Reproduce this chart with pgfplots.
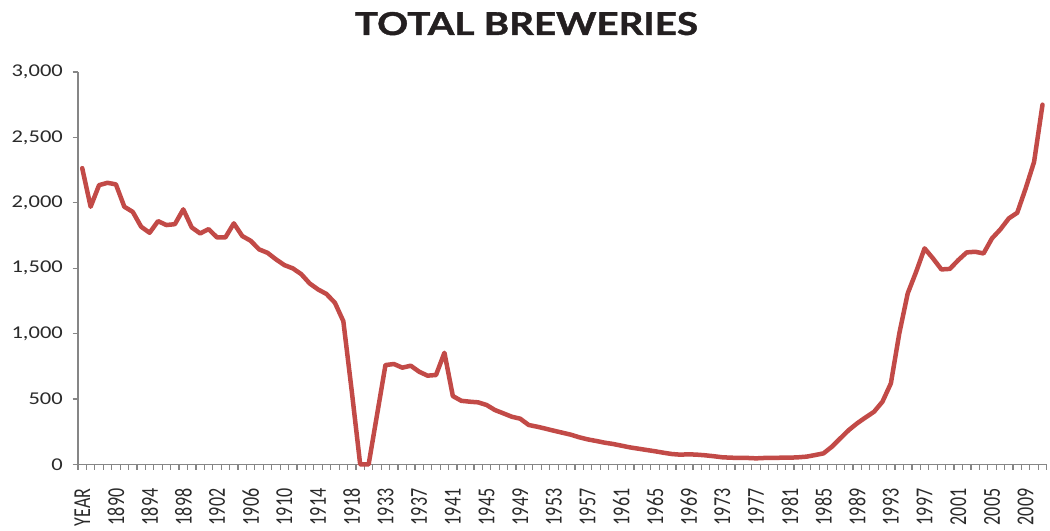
\documentclass[border=0pt]{standalone}
\usepackage{pgfplots}
\pgfplotsset{compat=1.18}
\usepackage{fontspec}
\setmainfont{Carlito}
\newfontfamily\titlefont{Lato}[BoldFeatures={FakeBold=1.2}]
\usepackage{graphicx}
\definecolor{brew}{HTML}{C24A47}
\definecolor{axisgray}{HTML}{868686}
\definecolor{lbl}{HTML}{2A2A2A}
\definecolor{titlec}{HTML}{231F20}
\newcommand\sx[1]{\scalebox{1.25}[1]{#1}}
\newcommand\sy[1]{\scalebox{1}[1.35]{#1}}
\pgfplotstableread{
i v
0 2265
1 1970
2 2135
3 2153
4 2141
5 1970
6 1931
7 1817
8 1771
9 1860
10 1830
11 1837
12 1950
13 1812
14 1766
15 1799
16 1736
17 1736
18 1843
19 1746
20 1710
21 1644
22 1618
23 1568
24 1524
25 1499
26 1455
27 1384
28 1338
29 1303
30 1236
31 1095
32 560
33 0
34 0
35 380
36 760
37 768
38 740
39 755
40 709
41 679
42 684
43 854
44 523
45 487
46 480
47 475
48 455
49 416
50 391
51 365
52 350
53 302
54 289
55 274
56 258
57 243
58 228
59 208
60 192
61 180
62 167
63 157
64 144
65 131
66 121
67 111
68 101
69 90
70 80
71 75
72 78
73 75
74 70
75 63
76 55
77 52
78 50
79 50
80 47
81 50
82 50
83 52
84 52
85 55
86 60
87 72
88 85
89 136
90 200
91 263
92 315
93 360
94 403
95 480
96 620
97 1002
98 1308
99 1473
100 1652
101 1575
102 1491
103 1495
104 1562
105 1621
106 1626
107 1613
108 1728
109 1797
110 1881
111 1924
112 2110
113 2313
114 2750
}\brewtab
\begin{document}
\begin{tikzpicture}[x=1bp,y=1bp]
\begin{axis}[
  at={(78bp,66.5bp)}, anchor=south west,
  scale only axis, width=968.7bp, height=392.5bp,
  xmin=-0.5, xmax=114.5, ymin=0, ymax=3000,
  axis lines*=left,
  axis line style={axisgray, line width=1.8bp, -},
  ytick={0,500,...,3000},
  minor ytick={0,500,...,3000},
  yticklabels={\sx{0},\sx{500},\sx{1,000},\sx{1,500},\sx{2,000},\sx{2,500},\sx{3,000}},
  xtick={0,4,...,112},
  minor xtick={-0.5,0.5,...,114.5},
  xticklabels={\sy{YEAR},\sy{1890},\sy{1894},\sy{1898},\sy{1902},\sy{1906},\sy{1910},\sy{1914},\sy{1918},\sy{1933},\sy{1937},\sy{1941},\sy{1945},\sy{1949},\sy{1953},\sy{1957},\sy{1961},\sy{1965},\sy{1969},\sy{1973},\sy{1977},\sy{1981},\sy{1985},\sy{1989},\sy{1993},\sy{1997},\sy{2001},\sy{2005},\sy{2009}},
  tick align=outside,
  major tick length=0pt,
  minor tick length=5.5bp,
  tick style={axisgray, line width=1.2bp},
  xticklabel style={font=\fontsize{18bp}{20bp}\selectfont, color=lbl, yshift=-24bp, rotate=90, anchor=east, inner sep=0pt},
  yticklabel style={font=\fontsize{18bp}{20bp}\selectfont, color=lbl, anchor=east, inner sep=0pt, xshift=-15bp},
  clip=false,
]
\addplot[brew, line width=4.5bp, line join=round, line cap=round, mark=none] table[x=i, y=v] {\brewtab};
\end{axis}
\node[anchor=base, color=titlec, inner sep=0pt] at (526.5,496) {\resizebox{343bp}{23bp}{\titlefont\bfseries TOTAL BREWERIES}};
\pgfresetboundingbox
\path (0,0) rectangle (1050,531);
\end{tikzpicture}
\end{document}
